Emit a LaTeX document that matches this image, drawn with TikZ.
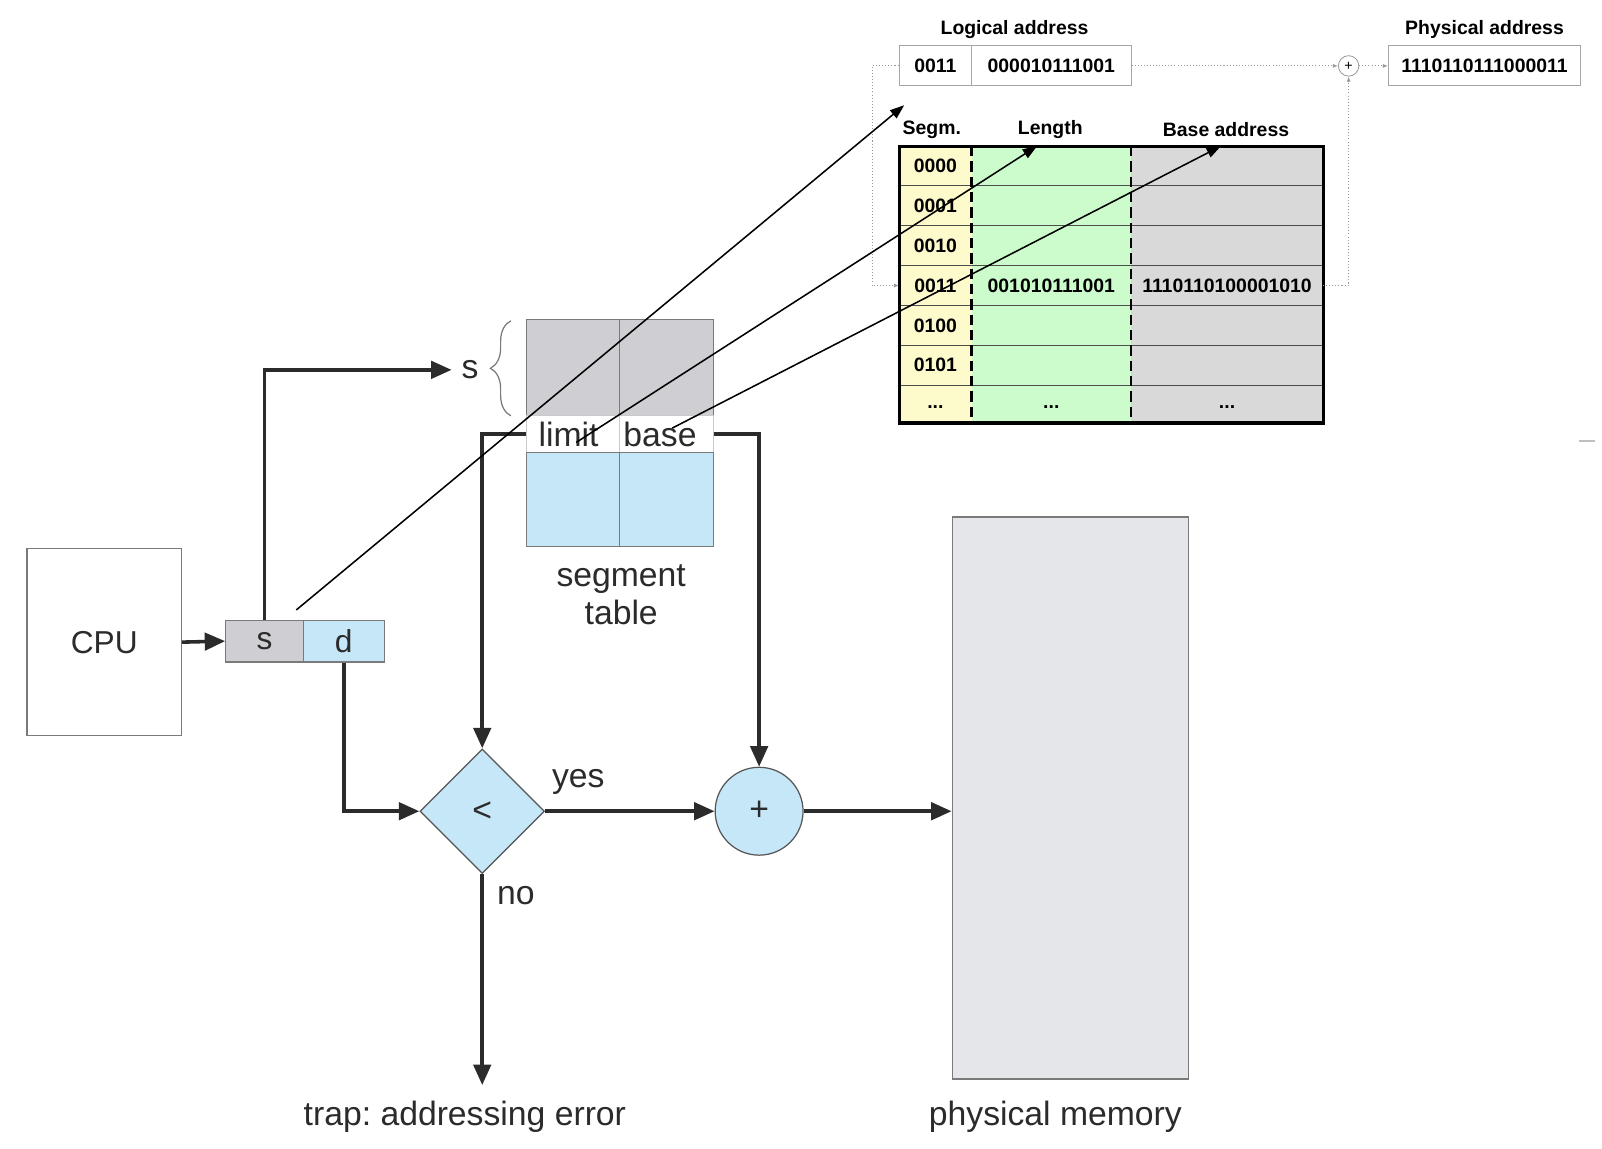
\documentclass[tikz,border=0pt]{standalone}
\usepackage{fontspec}
\setmainfont{Liberation Sans}
\usetikzlibrary{arrows.meta,shapes.geometric,decorations.pathreplacing}
\definecolor{sgray}{HTML}{CFCFD3}
\definecolor{sblue}{HTML}{C6E7F8}
\definecolor{memgray}{HTML}{E4E6EA}
\definecolor{tyellow}{HTML}{FDFACB}
\definecolor{tgreen}{HTML}{CCFCCC}
\definecolor{tgray}{HTML}{D9D9D9}
\definecolor{ink}{HTML}{2B2B2B}
\definecolor{frame}{HTML}{7A7A7A}
\frenchspacing
\begin{document}
\begin{tikzpicture}[x=1pt,y=-1pt,
  mainfont/.style={font=\fontsize{33}{37}\selectfont, text=ink},
  cpufont/.style={font=\fontsize{31}{34}\selectfont, text=ink},
  cell/.style={draw=frame, line width=1.2pt, inner sep=0pt, anchor=center},
  flow/.style={draw=ink, line width=3.5pt, -{Triangle[length=20pt,width=17pt]}},
  thinarrow/.style={draw=black, line width=1.5pt, -{Triangle[length=14pt,width=10pt]}},
  dotline/.style={draw=gray!80, line width=1pt, dotted, -{Latex[length=5pt,width=4pt]}},
  tfont/.style={font=\fontsize{19}{22}\selectfont\bfseries, text=black},
  topbox/.style={draw=gray!70, line width=1pt, inner sep=0pt, minimum height=39pt, tfont},
]
\useasboundingbox (0,0) rectangle (1568,1124);
\fill[white] (0,0) rectangle (1568,1124);

% ---------- lower diagram ----------
\node[cell, fill=white, minimum width=151pt, minimum height=183pt, cpufont] (cpu) at (102,628.5) {CPU};
\node[cell, fill=sgray, minimum width=76pt, minimum height=41pt, cpufont] (sbox) at (259,627.5) {s};
\node[cell, fill=sblue, minimum width=79pt, minimum height=41pt, cpufont] (dbox) at (336.5,627.5) {d};

\node[cell, fill=sgray, minimum width=91pt, minimum height=94pt] (g1) at (560.5,360) {};
\node[cell, fill=sgray, minimum width=92pt, minimum height=94pt] (g2) at (652,360) {};
\node[cell, draw=frame!40, fill=white, minimum width=91pt, minimum height=36pt, mainfont] (limit) at (560.5,425) {\hspace*{-8pt}limit};
\node[cell, draw=frame!40, fill=white, minimum width=92pt, minimum height=36pt, mainfont] (base) at (652,425) {\hspace*{-12pt}base};
\node[cell, fill=sblue, minimum width=91pt, minimum height=92pt] (b1) at (560.5,489) {};
\node[cell, fill=sblue, minimum width=92pt, minimum height=92pt] (b2) at (652,489) {};
\node[mainfont, align=center] (segtxt) at (608,582) {segment\\table};

\node[mainfont, inner sep=0pt] (slabel) at (460,362) {s};
\draw[frame, line width=1.2pt, decorate, decoration={brace, amplitude=20pt}] (500,407) -- (500,314);

\node[diamond, aspect=1, draw=ink!80, line width=1.2pt, fill=sblue, minimum width=122pt, minimum height=122pt, inner sep=0pt, mainfont] (diam) at (472,794) {<};
\node[circle, draw=ink!80, line width=1.2pt, fill=sblue, minimum size=86pt, inner sep=0pt, mainfont] (plus) at (743,794) {+};
\node[draw=frame, fill=memgray, line width=1.2pt, minimum width=231pt, minimum height=550pt, inner sep=0pt] (mem) at (1047.5,781) {};

\node[mainfont] (yes) at (566,765) {yes};
\node[mainfont] (no) at (505,877) {no};
\node[mainfont] (trap) at (455,1093) {trap: addressing error};
\node[mainfont] (pmem) at (1033,1093) {physical memory};
\coordinate (trapend) at (472,1062);

\draw[flow] (cpu.east) -- (sbox.west);
\draw[flow] (sbox.north) |- ([xshift=-18pt]slabel.center);
\draw[flow] (limit.west) -| (diam.north);
\draw[flow] (base.east) -| (plus.north);
\draw[flow] (dbox.south) |- (diam.west);
\draw[flow] (diam.east) -- (plus.west);
\draw[flow] (plus.east) -- (plus.east -| mem.west);
\draw[flow] (diam.south) -- (trapend);

% ---------- top right ----------
\node[tfont] (lahead) at (993,29) {Logical address};
\node[tfont] (pahead) at (1453,29) {Physical address};
\node[topbox, minimum width=71pt] (la) at (915.5,64.5) {0011};
\node[topbox, minimum width=156pt] (lb) at (1029,64.5) {000010111001};
\node[topbox, minimum width=188pt] (pa) at (1453,64.5) {1110110111000011};
\node[circle, draw=gray!80, line width=0.8pt, minimum size=20pt, inner sep=0pt, font=\fontsize{14}{14}\selectfont] (pc) at (1320,64.5) {+};

\fill[tyellow] (880,143) rectangle (951,414);
\fill[tgreen] (951,143) rectangle (1107,414);
\fill[tgray] (1107,143) rectangle (1295,414);
\foreach \yy in {182,221,260,299,338,377}
  \draw[gray!60!black, line width=1pt] (880,\yy) -- (1295,\yy);
\draw[black, line width=2.5pt, dash pattern=on 10pt off 5pt] (951,143) -- (951,414);
\draw[black, line width=2.5pt, dash pattern=on 10pt off 5pt] (1107,143) -- (1107,414);
\draw[black, line width=3pt] (880,143) rectangle (1295,414);

\node[tfont] (hsegm) at (912,127) {Segm.};
\node[tfont] (hlen) at (1028,127) {Length};
\node[tfont] (hbase) at (1200,127) {Base address};

\node[tfont] (r0) at (915.5,162.5) {0000};
\node[tfont] (r1) at (915.5,201.5) {0001};
\node[tfont] (r2) at (915.5,240.5) {0010};
\node[tfont] (r3) at (915.5,279.5) {0011};
\node[tfont] (r4) at (915.5,318.5) {0100};
\node[tfont] (r5) at (915.5,357.5) {0101};
\node[tfont] (r6) at (915.5,398) {...};
\node[tfont] (l3) at (1029,279.5) {001010111001};
\node[tfont] (l6) at (1029,398) {...};
\node[tfont] (b3) at (1201,279.5) {1110110100001010};
\node[tfont] (b6) at (1201,398) {...};

\coordinate (t3w) at (880,279.5);
\coordinate (t3e) at (1295,279.5);
\draw[dotline] (la.west) -- ++(-26,0) |- (t3w);
\draw[dotline] (lb.east) -- (pc.west);
\draw[dotline] (pc.east) -- (pa.west);
\draw[dotline] (t3e) -| (pc.south);

% ---------- thin connecting arrows ----------
\coordinate (sstart) at (290,597);
\coordinate (segmtip) at (885,103);
\coordinate (limstart) at (564,433);
\coordinate (lentip) at (1015,143);
\coordinate (basestart) at (658,419);
\coordinate (basetip) at (1195,143);
\draw[thinarrow] (sstart) -- (segmtip);
\draw[thinarrow] (limstart) -- (lentip);
\draw[thinarrow] (basestart) -- (basetip);

\draw[gray!50, line width=2pt] (1545,432) -- (1561,432);
\end{tikzpicture}
\end{document}
